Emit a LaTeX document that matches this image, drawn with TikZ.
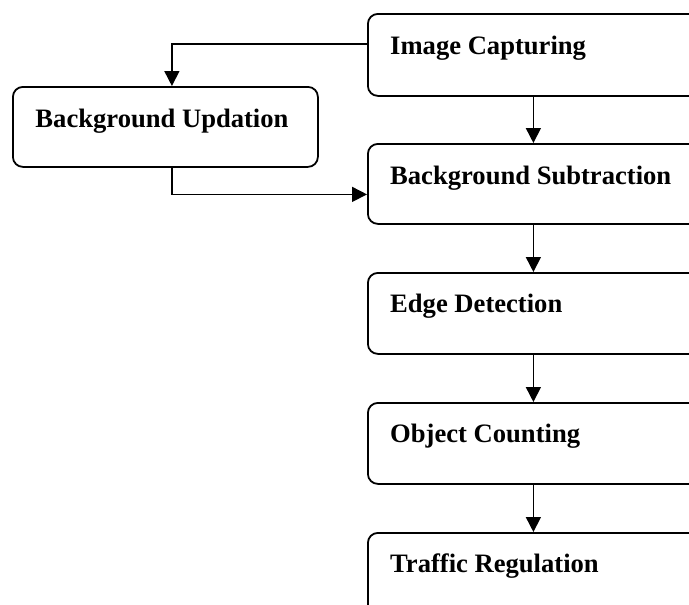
\documentclass[tikz,border=0pt]{standalone}
\usepackage{fontspec}
\setmainfont{Liberation Serif}
\usetikzlibrary{arrows.meta}

\tikzset{
  stage/.style={draw=black, line width=1.8pt, rounded corners=10pt,
    minimum width=331pt, inner sep=0pt, anchor=north west},
  sidebox/.style={draw=black, line width=1.8pt, rounded corners=10pt,
    minimum width=305pt, minimum height=80pt, inner sep=0pt, anchor=north west},
  caption/.style={inner sep=0pt, font=\fontsize{26.6}{30}\selectfont\bfseries},
  flow/.style={line width=1.6pt, -{Triangle[length=15pt, width=15pt]}},
}

\begin{document}
\begin{tikzpicture}[x=1pt, y=-1pt]
  \useasboundingbox (0,0) rectangle (689,605);
  \clip (0,0) rectangle (689,605);

  % main pipeline boxes (they run past the right and bottom edges)
  \node[stage, minimum height=82pt] (ic) at (367,13) {};
  \node[stage, minimum height=80pt] (bs) at (367,143) {};
  \node[stage, minimum height=81pt] (ed) at (367,272) {};
  \node[stage, minimum height=81pt] (oc) at (367,402) {};
  \node[stage, minimum height=120pt] (tr) at (367,532) {};

  % side box
  \node[sidebox] (bu) at (12,86) {};

  % box captions
  \node[caption, anchor=base west] (icT) at (390,54) {Image Capturing};
  \node[caption, anchor=base west] (bsT) at (390,184) {Background Subtraction};
  \node[caption, anchor=base west] (edT) at (390,312) {Edge Detection};
  \node[caption, anchor=base west] (ocT) at (390,442) {Object Counting};
  \node[caption, anchor=base west] (trT) at (390,572) {Traffic Regulation};
  \node[caption, anchor=base] (buT) at (162,127) {Background Updation};

  % connectors
  \draw[flow] (ic.south) -- (bs.north);
  \draw[flow] (bs.south) -- (ed.north);
  \draw[flow] (ed.south) -- (oc.north);
  \draw[flow] (oc.south) -- (tr.north);
  \draw[flow] ([yshift=11pt]ic.west) -| ([xshift=6.5pt]bu.north);
  \draw[flow] ([xshift=6.5pt]bu.south) |- ([yshift=-10.5pt]bs.west);
\end{tikzpicture}
\end{document}
